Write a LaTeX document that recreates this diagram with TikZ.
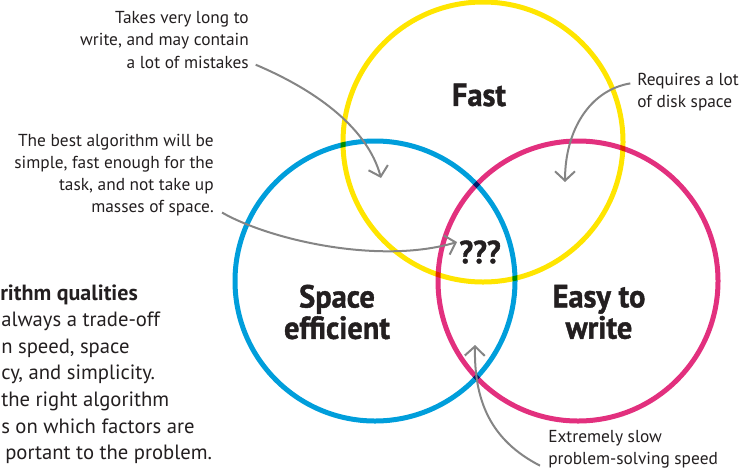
\documentclass[tikz,border=0pt]{standalone}
\usepackage{fontspec}
\setmainfont{PT Sans}
\newfontfamily\vennfont[FakeStretch=0.95,FakeBold=1.2]{PT Sans}
\usepackage{tikz}
\usetikzlibrary{arrows.meta}
\definecolor{ink}{HTML}{231F20}
\definecolor{vennyellow}{HTML}{FFE500}
\definecolor{venncyan}{HTML}{009EDB}
\definecolor{vennmagenta}{HTML}{E2307E}
\definecolor{notegray}{HTML}{858585}
\tikzset{
  venn circle/.style={
    circle,
    line width=3.75pt,
    minimum size=210pt,
    inner sep=0pt
  },
  venn label/.style={
    font=\vennfont\bfseries\fontsize{24}{23.5}\selectfont,
    text=ink, align=center, inner sep=0pt
  },
  note/.style={
    font=\fontsize{13}{16.7}\selectfont,
    text=ink, inner sep=0pt
  },
  body text/.style={
    font=\fontsize{15.5}{19.9}\selectfont,
    text=ink, inner sep=0pt, align=left, anchor=west
  },
  note arrow/.style={
    -{Straight Barb[length=7pt,width=15pt]},
    line width=1.5pt,
    color=notegray
  }
}

\begin{document}
\begin{tikzpicture}[x=0.75pt, y=-0.75pt]
  \useasboundingbox (0,0) rectangle (741,472);

  % Circles
  \begin{scope}[blend group=multiply]
    \node[venn circle, draw=vennyellow] (fast) at (483,142) {};
    \node[venn circle, draw=venncyan] (space) at (375,281) {};
    \node[venn circle, draw=vennmagenta] (easy) at (578,281) {};
  \end{scope}

  % Labels
  \node[venn label] (fastlbl) at (479,95) {Fast};
  \node[venn label] (spacelbl) at (337,312) {Space\\efficient};
  \node[venn label] (easylbl) at (599,312) {Easy to\\write};
  \node[venn label] (best) at (480,252) {???};

  % Notes
  \node[note, align=right, anchor=east] (mistakes) at (249,40)
    {Takes very long to\\write, and may contain\\a lot of mistakes};
  \node[note, align=right, anchor=east] (ideal) at (214,175)
    {The best algorithm will be\\simple, fast enough for the\\task, and not take up\\masses of space.};
  \node[note, align=left, anchor=west] (disk) at (637,92)
    {Requires a lot\\of disk space};
  \node[note, align=left, anchor=west] (slow) at (548,449)
    {Extremely slow\\problem-solving speed};

  % Text block on the left (cut at the edge)
  \node[body text, font=\bfseries\fontsize{16.5}{19.9}\selectfont] (head) at (0,295)
    {rithm qualities};
  \node[body text] (blurb) at (1,388)
    {always a trade-off\\n speed, space\\cy, and simplicity.\\the right algorithm\\s on which factors are\\\hspace*{3pt}portant to the problem.};

  % Arrow tips
  \coordinate (tipfast) at (381,178);
  \coordinate (tipbest) at (457,242);
  \coordinate (tipdisk) at (565,182);
  \coordinate (tipslow) at (475,345);

  \draw[note arrow] ([xshift=5pt,yshift=3pt]mistakes.south east)
    .. controls (320,92) and (368,130) .. (tipfast);
  \draw[note arrow] ([xshift=6pt,yshift=3pt]ideal.south east)
    .. controls (270,240) and (380,265) .. (tipbest);
  \draw[note arrow] ([xshift=-5pt,yshift=-8pt]disk.north west)
    .. controls (590,90) and (565,130) .. (tipdisk);
  \draw[note arrow] ([xshift=-6pt,yshift=2pt]slow.south west)
    .. controls (490,440) and (474,400) .. (tipslow);
\end{tikzpicture}
\end{document}
